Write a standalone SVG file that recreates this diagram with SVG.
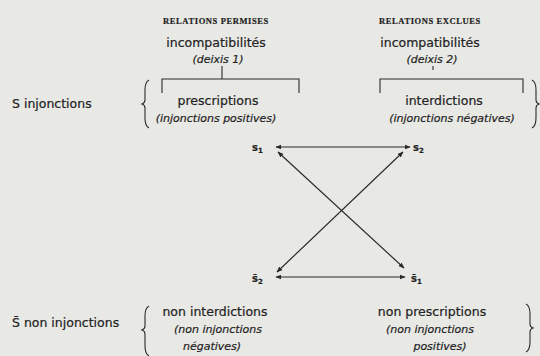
<svg xmlns="http://www.w3.org/2000/svg" width="540" height="356" viewBox="0 0 540 356">
<style>
text{fill:#222;font-family:"DejaVu Sans","Liberation Sans",sans-serif;stroke:#222;stroke-width:0.2}
.cap{font-family:"Liberation Serif",serif;font-weight:bold;font-size:8.5px;letter-spacing:0.6px}
.m{font-size:12.5px}
.it{font-size:11px;font-style:italic}
.lbl{font-size:10px;font-weight:bold}
.ln{stroke:#2a2a2a;stroke-width:1.2;fill:none}
.br{stroke:#2a2a2a;stroke-width:1.1;fill:none}
</style>
<defs>
<marker id="ah" viewBox="0 0 10 10" refX="9" refY="5" markerWidth="6" markerHeight="6" orient="auto-start-reverse" markerUnits="userSpaceOnUse">
<path d="M0,1 L10,5 L0,9 z" fill="#2a2a2a"/>
</marker>
</defs>
<rect width="540" height="356" fill="#e8e8e5"/>

<g id="header-left">
<text class="cap" x="216" y="24" text-anchor="middle">RELATIONS PERMISES</text>
<text class="m" x="216" y="47" text-anchor="middle">incompatibilités</text>
<text class="it" x="218" y="63" text-anchor="middle">(deixis 1)</text>
<path class="br" d="M222,66 V79 M162,93 V79 H299 V93"/>
</g>

<g id="header-right">
<text class="cap" x="430" y="24" text-anchor="middle">RELATIONS EXCLUES</text>
<text class="m" x="430" y="47" text-anchor="middle">incompatibilités</text>
<text class="it" x="432" y="63" text-anchor="middle">(deixis 2)</text>
<path class="br" d="M433,66 V70 M380,93 V79 H523 V93"/>
</g>

<g id="row-S">
<text class="m" x="12" y="108">S injonctions</text>
<path class="br" d="M149,80 Q145,82 145,90 V100 Q145,103 142,104 Q145,105 145,108 V118 Q145,126 149,128"/>
<path class="br" d="M532,80 Q536,82 536,90 V100 Q536,103 539,104 Q536,105 536,108 V118 Q536,126 532,128"/>
</g>

<g id="prescriptions">
<text class="m" x="218" y="105" text-anchor="middle">prescriptions</text>
<text class="it" x="216" y="122" text-anchor="middle">(injonctions positives)</text>
</g>

<g id="interdictions">
<text class="m" x="444" y="105" text-anchor="middle">interdictions</text>
<text class="it" x="452" y="122" text-anchor="middle">(injonctions négatives)</text>
</g>

<g id="s1"><text class="lbl" x="252" y="151">s<tspan font-size="7" dy="2">1</tspan></text></g>
<g id="s2"><text class="lbl" x="413" y="151">s<tspan font-size="7" dy="2">2</tspan></text></g>
<g id="s2bar"><text class="lbl" x="252" y="282">s̄<tspan font-size="7" dy="2">2</tspan></text></g>
<g id="s1bar"><text class="lbl" x="411" y="282">s̄<tspan font-size="7" dy="2">1</tspan></text></g>

<g id="connectors">
<line class="ln" x1="276" y1="147" x2="410" y2="147" marker-start="url(#ah)" marker-end="url(#ah)"/>
<line class="ln" x1="276" y1="277" x2="405" y2="277" marker-start="url(#ah)" marker-end="url(#ah)"/>
<line class="ln" x1="278" y1="152" x2="404" y2="268" marker-start="url(#ah)" marker-end="url(#ah)"/>
<line class="ln" x1="403" y1="152" x2="277" y2="272" marker-start="url(#ah)" marker-end="url(#ah)"/>
</g>

<g id="row-Sbar">
<text class="m" x="12" y="327">S̄ non injonctions</text>
<path class="br" d="M149,306 Q145,308 145,316 V326 Q145,329 142,330 Q145,331 145,334 V346 Q145,354 149,356"/>
<path class="br" d="M526,304 Q530,306 530,314 V324 Q530,327 533,328 Q530,329 530,332 V342 Q530,350 526,352"/>
</g>

<g id="non-interdictions">
<text class="m" x="215" y="316" text-anchor="middle">non interdictions</text>
<text class="it" x="218" y="333" text-anchor="middle">(non injonctions</text>
<text class="it" x="212" y="350" text-anchor="middle">négatives)</text>
</g>

<g id="non-prescriptions">
<text class="m" x="432" y="316" text-anchor="middle">non prescriptions</text>
<text class="it" x="430" y="333" text-anchor="middle">(non injonctions</text>
<text class="it" x="440" y="350" text-anchor="middle">positives)</text>
</g>
</svg>
